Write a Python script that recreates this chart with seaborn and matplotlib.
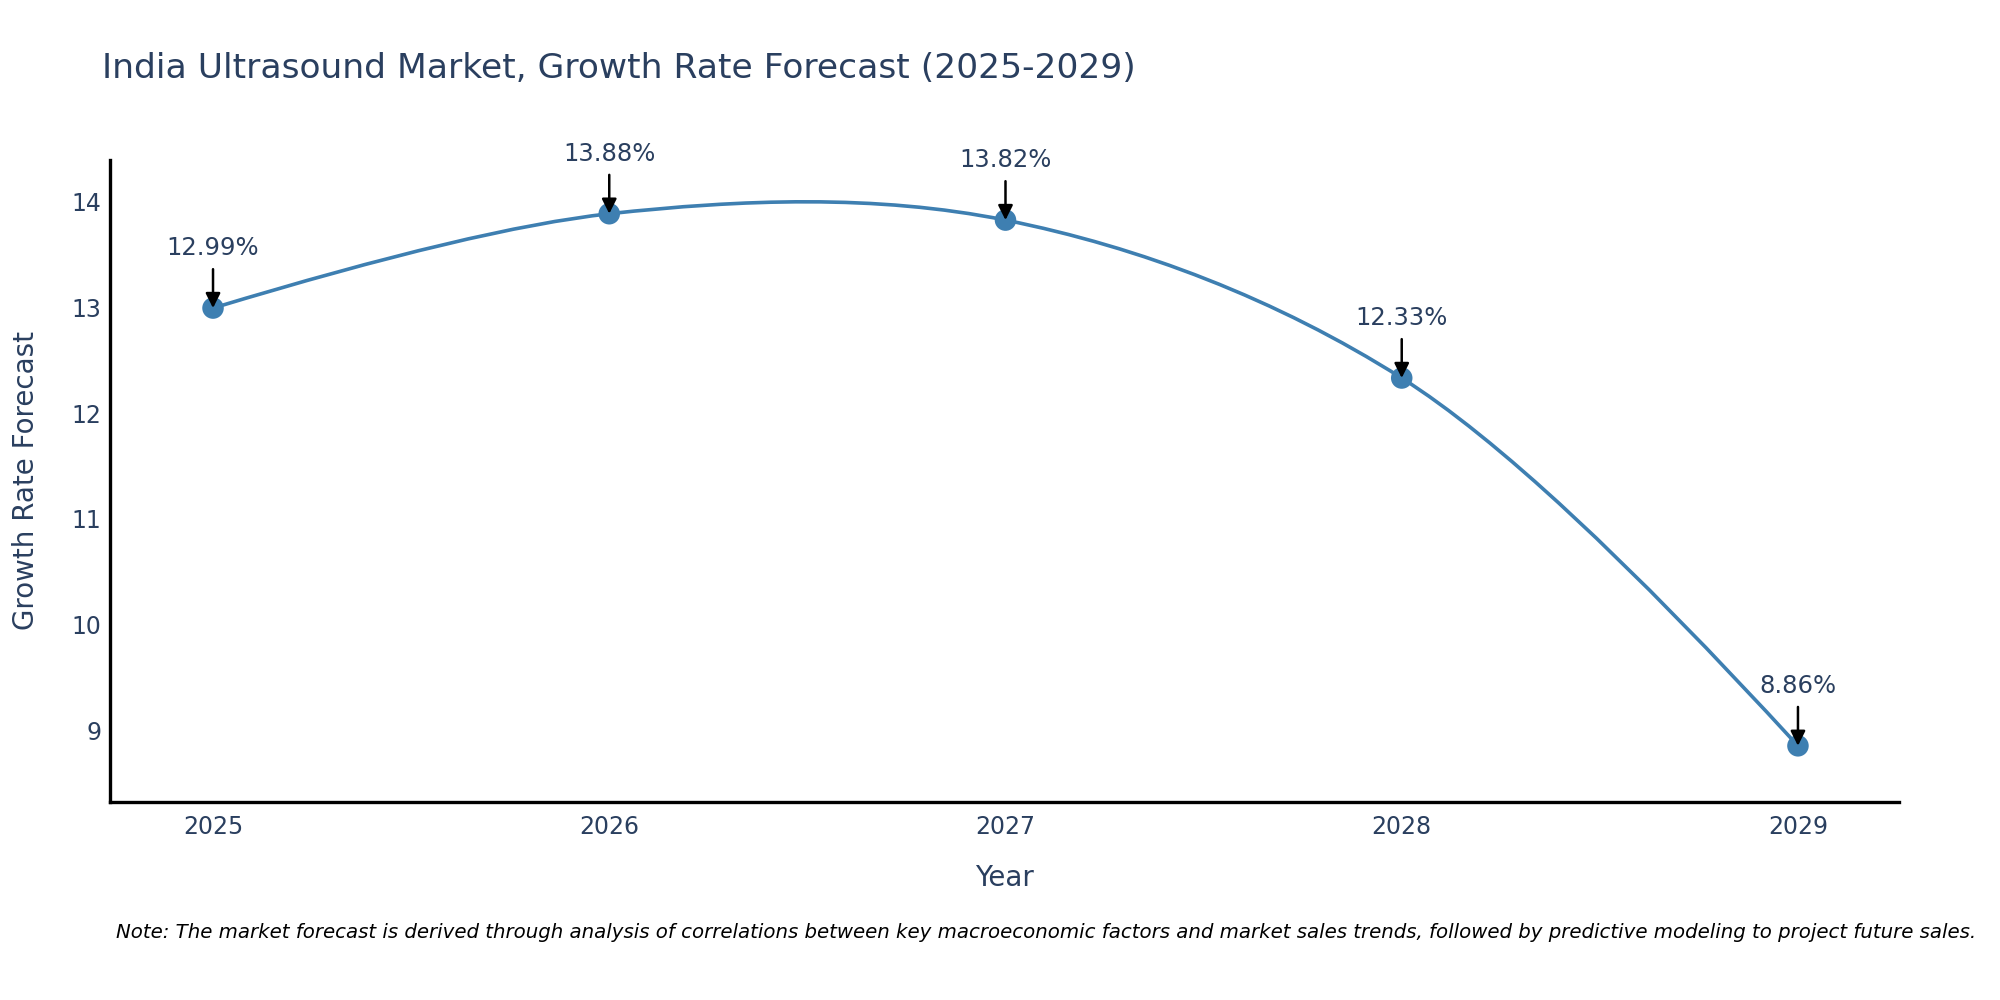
import matplotlib
matplotlib.use('Agg')
import matplotlib.pyplot as plt
from matplotlib.path import Path
from matplotlib.patches import PathPatch
import numpy as np
import pandas as pd
import seaborn as sns


years = [2025, 2026, 2027, 2028, 2029]
growth_rates = [12.99, 13.88, 13.82, 12.33, 8.86]
y_ticks = [9, 10, 11, 12, 13, 14]

TITLE = 'India Ultrasound Market, Growth Rate Forecast (2025-2029)'
NOTE = ('Note: The market forecast is derived through analysis of correlations between key '
        'macroeconomic factors and market sales trends, followed by predictive modeling to '
        'project future sales.')

LINE_COLOR = '#3e7fb1'
TEXT_COLOR = '#2a3f5f'


def make_tangent(prev_pt, this_pt, next_pt, smoothness=1.0):
    # same tangent rule as a catmull-rom style spline (exp 0.5)
    d1 = prev_pt - this_pt
    d2 = next_pt - this_pt
    d1a = np.hypot(*d1) ** 0.5
    d2a = np.hypot(*d2) ** 0.5
    num = (d2a * d2a * d1 - d1a * d1a * d2) * smoothness
    denom1 = 3 * d2a * (d1a + d2a)
    denom2 = 3 * d1a * (d1a + d2a)
    return this_pt + num / denom1, this_pt - num / denom2


def smooth_path(ax, xs, ys):
    pts = ax.transData.transform(np.column_stack([xs, ys]))
    tangents = [make_tangent(pts[i - 1], pts[i], pts[i + 1]) for i in range(1, len(pts) - 1)]

    verts = [pts[0], tangents[0][0], pts[1]]
    codes = [Path.MOVETO, Path.CURVE3, Path.CURVE3]
    for i in range(2, len(pts) - 1):
        verts += [tangents[i - 2][1], tangents[i - 1][0], pts[i]]
        codes += [Path.CURVE4] * 3
    verts += [tangents[-1][1], pts[-1]]
    codes += [Path.CURVE3] * 2

    verts = ax.transData.inverted().transform(np.array(verts))
    return Path(verts, codes)


df = pd.DataFrame({'Year': years, 'Growth Rate Forecast': growth_rates})

sns.set_theme(style='white')
plt.rcParams['font.family'] = ['DejaVu Sans']

fig = plt.figure(figsize=(20, 10), dpi=100)
ax = fig.add_axes([0.055, 0.198, 0.8945, 0.642])
ax.set_xlim(2024.74, 2029.255)
ax.set_ylim(8.33, 14.387)

line = PathPatch(smooth_path(ax, df['Year'], df['Growth Rate Forecast']),
                 facecolor='none', edgecolor=LINE_COLOR, lw=2.6, zorder=2)
ax.add_patch(line)

sns.scatterplot(data=df, x='Year', y='Growth Rate Forecast', ax=ax,
                s=240, color=LINE_COLOR, edgecolor='none', zorder=3, legend=False)

for x, y in zip(years, growth_rates):
    ax.annotate(f'{y:.2f}%', xy=(x, y), xytext=(0, 43), textcoords='offset points',
                ha='center', va='center', fontsize=17.5, color=TEXT_COLOR,
                arrowprops=dict(arrowstyle='-|>', color='black', lw=1.8,
                                mutation_scale=22, shrinkA=4, shrinkB=0),
                zorder=4)

ax.set_xticks(years)
ax.set_xticklabels([str(y) for y in years])
ax.set_yticks(y_ticks)
ax.tick_params(axis='both', labelsize=17, colors=TEXT_COLOR, length=0)
ax.tick_params(axis='x', pad=9)
ax.tick_params(axis='y', pad=6)

ax.set_xlabel('Year', fontsize=20, color=TEXT_COLOR)
ax.set_ylabel('Growth Rate Forecast', fontsize=20, color=TEXT_COLOR)
ax.xaxis.set_label_coords(0.5, -0.096)
ax.yaxis.set_label_coords(-0.039, 0.5)

sns.despine(ax=ax)
for side in ['left', 'bottom']:
    ax.spines[side].set_color('black')
    ax.spines[side].set_linewidth(2.4)
ax.grid(False)

fig.text(0.051, 0.932, TITLE, fontsize=24.8, color=TEXT_COLOR, ha='left', va='center')
fig.text(0.0578, 0.067, NOTE, fontsize=14.2, style='italic', color='black',
         ha='left', va='center')

fig.savefig('out.png', dpi=100, facecolor='white')
